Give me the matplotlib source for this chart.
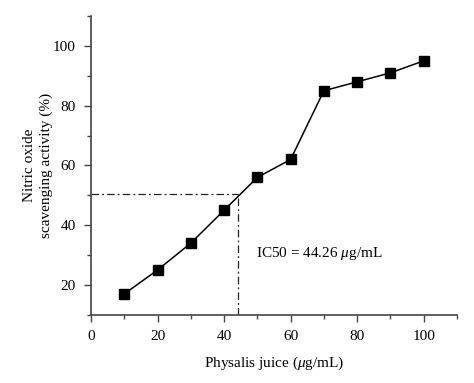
import numpy as np
import matplotlib
matplotlib.use('Agg')
import matplotlib.pyplot as plt
from matplotlib.ticker import MultipleLocator

# Physalis juice concentration vs nitric oxide scavenging activity
conc = [10, 20, 30, 40, 50, 60, 70, 80, 90, 100]
activity = [17, 25, 34, 45, 56, 62, 85, 88, 91, 95]
ic50_x = 44.26
ic50_y = 50.3

plt.rcParams['font.family'] = ['Liberation Serif', 'DejaVu Serif']
plt.rcParams['mathtext.fontset'] = 'custom'
plt.rcParams['mathtext.it'] = 'Liberation Serif:italic'
plt.rcParams['mathtext.rm'] = 'Liberation Serif'

fig = plt.figure(figsize=(4.74, 3.83), dpi=100)
ax = fig.add_axes([0.192, 0.178, 0.772, 0.780])

ax.plot(conc, activity, '-', color='black', lw=1.1, marker='s', ms=7,
        markerfacecolor='black', markeredgecolor='black')
ax.plot([0, ic50_x], [ic50_y, ic50_y], color='#222222', lw=0.9,
        dashes=(6, 2.5, 1.5, 2.5))
ax.plot([ic50_x, ic50_x], [10, ic50_y], color='#222222', lw=0.9,
        dashes=(6, 2.5, 1.5, 2.5))

ax.text(49.5, 30.4, r'IC50 = 44.26 $\mu$g/mL', fontsize=11, va='center')

ax.set_xlim(0, 110)
ax.set_ylim(10, 110)
ax.xaxis.set_major_locator(MultipleLocator(20))
ax.xaxis.set_minor_locator(MultipleLocator(10))
ax.set_yticks([20, 40, 60, 80, 100])
ax.yaxis.set_minor_locator(MultipleLocator(10))

for s in ['top', 'right']:
    ax.spines[s].set_visible(False)
for s in ['left', 'bottom']:
    ax.spines[s].set_color('#444444')
    ax.spines[s].set_linewidth(1.2)
ax.tick_params(which='both', direction='out', color='#444444', width=1.0)
ax.tick_params(which='major', length=5, labelsize=11, pad=6)
ax.tick_params(which='minor', length=3)

ax.set_xlabel(r'Physalis juice ($\mu$g/mL)', fontsize=11, labelpad=8)
ax.set_ylabel('Nitric oxide\nscavenging activity (%)', fontsize=11,
              labelpad=0, linespacing=1.35)

fig.savefig('out.png', dpi=100)
